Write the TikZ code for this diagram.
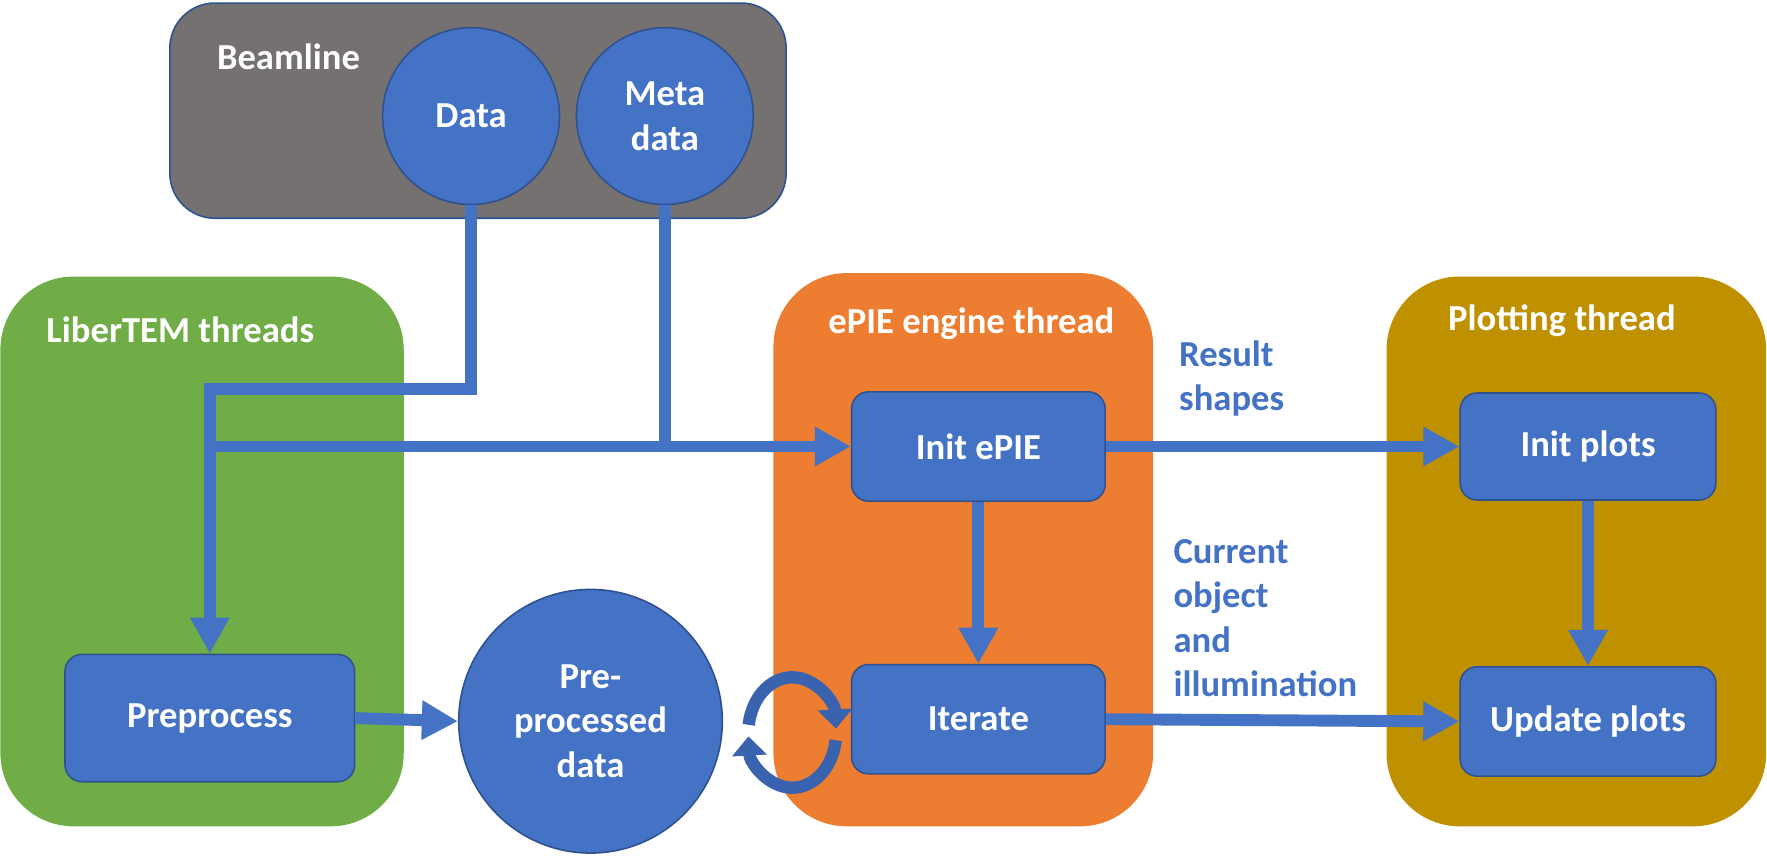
\documentclass[tikz,border=0pt]{standalone}
\usepackage{fontspec}
\setmainfont{Carlito}
\usetikzlibrary{arrows.meta}
\definecolor{bgray}{HTML}{767171}
\definecolor{bdark}{HTML}{2F528F}
\definecolor{bblue}{HTML}{4472C4}
\definecolor{lgreen}{HTML}{70AD47}
\definecolor{eorange}{HTML}{ED7D31}
\definecolor{pgold}{HTML}{BF9000}
\definecolor{cycblue}{HTML}{3A63AF}
\begin{document}
\begin{tikzpicture}[x=0.02cm,y=-0.02cm,
  font=\fontsize{18.5}{22.5}\selectfont\bfseries,
  container/.style={rounded corners=1.3cm, inner sep=0pt, anchor=north west},
  title/.style={text=white},
  procbox/.style={draw=bdark, line width=0.8pt, fill=bblue, rounded corners=0.3cm, text=white, inner sep=0pt, anchor=north west},
  datacirc/.style={circle, draw=bdark, line width=0.8pt, fill=bblue, text=white, align=center, inner sep=0pt},
  flow/.style={draw=bblue, line width=6pt},
  flowarrow/.style={flow, -{Triangle[width=0.66cm,length=0.64cm]}},
  note/.style={text=bblue, align=left, anchor=north west, inner sep=0pt},
  cyc/.style={draw=cycblue, line width=0.22cm, -{Triangle[width=0.6cm,length=0.34cm]}}
]
\useasboundingbox (0,0) rectangle (1568,760.5);
% containers
\node[container, rounded corners=0.8cm, draw=bdark, line width=0.8pt, fill=bgray, minimum width=10.94cm, minimum height=3.82cm] (beam) at (150,2) {};
\node[container, fill=lgreen, minimum width=7.16cm, minimum height=9.76cm] (lib) at (0,245) {};
\node[container, fill=eorange, minimum width=6.74cm, minimum height=9.82cm] (eng) at (686,242) {};
\node[container, fill=pgold, minimum width=6.74cm, minimum height=9.76cm] (plot) at (1230,245) {};
% titles
\node[title] (beamt) at (256,50) {Beamline};
\node[title] (libt) at (160,293) {LiberTEM threads};
\node[title] (engt) at (862,287) {ePIE engine thread};
\node[title] (plott) at (1386,285) {Plotting thread};
% data circles
\node[datacirc, minimum size=3.14cm] (data) at (418,103) {Data};
\node[datacirc, minimum size=3.14cm] (meta) at (590,103) {Meta\\data};
\node[datacirc, minimum size=4.68cm] (ppd) at (524,640) {Pre-\\processed\\data};
% process boxes
\node[procbox, minimum width=4.5cm, minimum height=1.94cm] (iep) at (755,347) {Init ePIE};
\node[procbox, minimum width=4.5cm, minimum height=1.94cm] (iter) at (755,589) {Iterate};
\node[procbox, minimum width=4.54cm, minimum height=1.9cm] (ipl) at (1295,348) {Init plots};
\node[procbox, minimum width=4.54cm, minimum height=1.94cm] (upl) at (1295,591) {Update plots};
\node[procbox, minimum width=5.14cm, minimum height=2.26cm] (pre) at (57,580) {Preprocess};
% notes
\node[note] (res) at (1046,302) {Result\\shapes};
\node[note] (cur) at (1041,478) {Current\\object\\and\\illumination};
% connectors
\coordinate (j1) at (pre.north |- 0,345);
\coordinate (j2) at (pre.north |- iep.west);
\draw[flowarrow] (data.south) |- (j1) -- (pre.north);
\draw[flowarrow] (meta.south) |- (iep.west);
\draw[flow] (j2) -- (j2 -| meta.south);
\draw[flowarrow] (iep.east) -- (ipl.west);
\draw[flowarrow] (iep.south) -- (iter.north);
\draw[flowarrow] (ipl.south) -- (upl.north);
\draw[flowarrow] (iter.east) -- (upl.west);
\draw[flowarrow] (pre.east) -- (ppd.west);
% circular arrows
\coordinate (cy) at (703,650);
\draw[cyc] (cy) ++(188:39 and 49) arc[start angle=188, end angle=356, x radius=39, y radius=49];
\draw[cyc] (cy) ++(8:39 and 49) arc[start angle=8, end angle=176, x radius=39, y radius=49];
\end{tikzpicture}
\end{document}
